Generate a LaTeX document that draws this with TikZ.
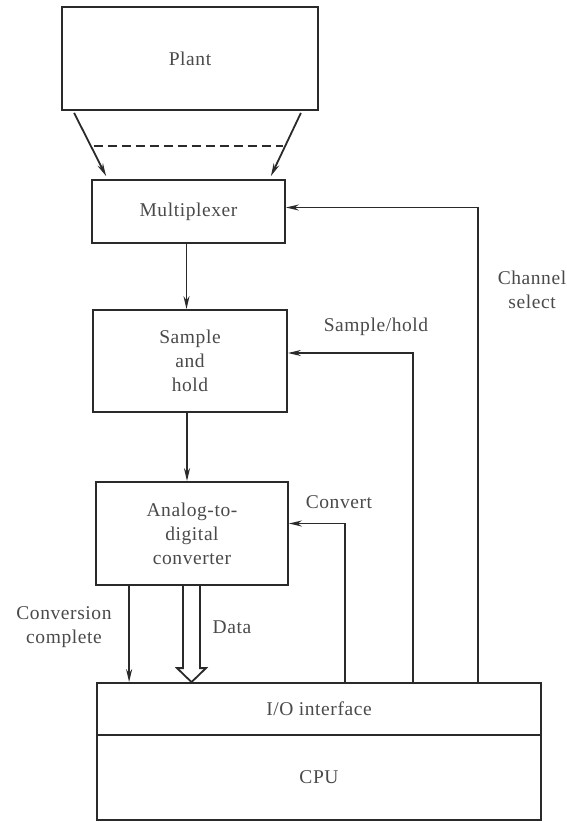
\documentclass[tikz,border=0pt]{standalone}
\usepackage{fontspec}
\setmainfont{Liberation Serif}[LetterSpace=3]
\usetikzlibrary{arrows.meta,calc}
\definecolor{ink}{HTML}{2A2A2A}
\definecolor{txt}{HTML}{4A4A4A}
\begin{document}
\begin{tikzpicture}[x=1pt,y=-1pt,
  lab/.style={text=txt, align=center, inner sep=0pt, font=\fontsize{19.5}{24}\selectfont},
  blk/.style={lab, draw=ink, line width=1.8pt},
  arr/.style={draw=ink, line width=1.8pt, -{Stealth[length=13pt,width=6pt]}},
  wire/.style={draw=ink, line width=1.8pt}
]
\useasboundingbox (0,0) rectangle (567,822);

% blocks
\node[blk, minimum width=256pt, minimum height=103pt] (plant) at (190,58.5) {\raisebox{-4pt}{Plant}};
\node[blk, minimum width=193pt, minimum height=63pt]  (mux)   at (188.5,211.5) {Multiplexer};
\node[blk, minimum width=194pt, minimum height=102pt] (sh)    at (190,361) {Sample\\and\\hold};
\node[blk, minimum width=192pt, minimum height=103pt] (adc)   at (192,533.5) {Analog-to-\\digital\\converter};
\node[blk, minimum width=444pt, minimum height=52pt]  (io)    at (319,709) {I/O interface};
\node[blk, minimum width=444pt, minimum height=85pt]  (cpu)   at (319,777.5) {CPU};

% plant outputs into the multiplexer
\coordinate (p1) at ($(plant.south west)+(13,2)$);
\coordinate (m1) at ($(mux.north west)+(15,-3)$);
\coordinate (p2) at ($(plant.south east)+(-18,2)$);
\coordinate (m2) at ($(mux.north east)+(-15,-3)$);
\draw[arr] (p1) -- (m1);
\draw[arr] (p2) -- (m2);
\draw[wire, line width=1.5pt, dash pattern=on 9pt off 5pt]
  ($(p1)!0.52!(m1)+(3,0)$) -- ($(p2)!0.52!(m2)+(-2,0)$);

% signal chain
\draw[arr] ($(mux.south)+(-2,0)$) -- ($(mux.south |- sh.north)+(-2,0)$);
\draw[arr] ($(sh.south)+(-3,0)$) -- ($(sh.south |- adc.north)+(-3,0)$);

% conversion complete
\coordinate (cc) at ($(adc.south west)+(34,0)$);
\draw[arr] (cc) -- (cc |- io.north);

% data bus (hollow arrow)
\coordinate (dc) at ($(adc.south)+(-0.5,0)$);
\draw[wire, line join=miter]
  ($(dc)+(-8.5,0)$) -- ($(dc |- io.north)+(-8.5,-14)$) -- ++(-6,0)
  -- (dc |- io.north)
  -- ($(dc |- io.north)+(14.5,-14)$) -- ++(-6,0) -- ($(dc)+(8.5,0)$);

% control lines from the I/O interface
\coordinate (cv) at ($(io.north west)+(249,0)$);
\coordinate (sv) at ($(io.north west)+(317,0)$);
\coordinate (ch) at ($(io.north west)+(382,0)$);
\draw[arr] (cv) |- ($(adc.east)+(0,-10)$);
\draw[arr] (sv) |- ($(sh.east)+(0,-8)$);
\draw[arr] (ch) |- ($(mux.east)+(0,-4)$);

% labels
\node[lab] (lcc) at (64,627.5) {Conversion\\complete};
\node[lab] (ldata) at (232,627) {Data};
\node[lab] (lconv) at (339,502) {Convert};
\node[lab] (lsh) at (376,327) {Sample/hold};
\node[lab] (lch) at (532,290) {Channel\\select};
\end{tikzpicture}
\end{document}
